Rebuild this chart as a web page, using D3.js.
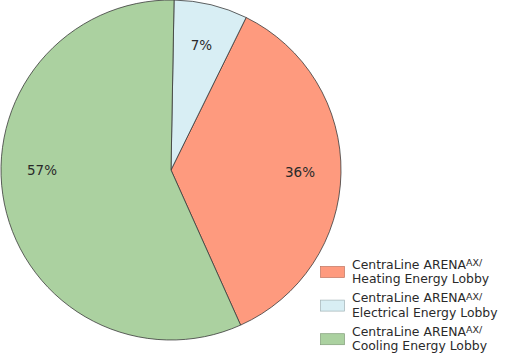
<!DOCTYPE html>
<html>
<head>
<meta charset="utf-8">
<script src="https://cdn.jsdelivr.net/npm/d3@7"></script>
<style>
  body { margin: 0; background: #fff; }
  svg text { font-family: "DejaVu Sans", sans-serif; fill: #2a2a2a; }
</style>
</head>
<body>
<div id="chart"></div>
<script>
const categories = ["Heating Energy Lobby", "Electrical Energy Lobby", "Cooling Energy Lobby"];
const values = [36, 7, 57];
const colors = ["#fe9a7e", "#d8eef4", "#abd1a0"];
// drawing order, clockwise from 12 o'clock
const sliceOrder = [1, 0, 2];

const width = 506, height = 355;
const cx = 171, cy = 170, radius = 170;
const labelRadius = 129;

const svg = d3.select("#chart").append("svg")
  .attr("width", width)
  .attr("height", height);

const start = 0.018;
const pie = d3.pie()
  .sort((a, b) => sliceOrder.indexOf(a.i) - sliceOrder.indexOf(b.i))
  .value(d => d.v)
  .startAngle(start)
  .endAngle(start + 2 * Math.PI);

const data = values.map((v, i) => ({ v, i }));
const arc = d3.arc().innerRadius(0).outerRadius(radius);

const g = svg.append("g").attr("transform", `translate(${cx},${cy})`);

const arcs = pie(data);

g.selectAll("path")
  .data(arcs)
  .enter()
  .append("path")
  .attr("d", arc)
  .attr("fill", d => colors[d.data.i])
  .attr("stroke", "#3a3a3a")
  .attr("stroke-width", 0.8);

// label angle: slice middle, but a slice spanning 9 o'clock keeps its label there
function labelAngle(d) {
  const w = 1.5 * Math.PI;
  if (d.startAngle <= w && d.endAngle >= w) return w;
  return (d.startAngle + d.endAngle) / 2;
}

g.selectAll("text.pct")
  .data(arcs)
  .enter()
  .append("text")
  .attr("class", "pct")
  .attr("x", d => labelRadius * Math.sin(labelAngle(d)))
  .attr("y", d => -labelRadius * Math.cos(labelAngle(d)))
  .attr("text-anchor", "middle")
  .attr("dy", "0.36em")
  .style("font-size", "13.5px")
  .text(d => d.data.v + "%");

// legend
const legend = svg.append("g").attr("transform", "translate(320.5,266.5)");
const item = legend.selectAll("g")
  .data(categories)
  .enter()
  .append("g")
  .attr("transform", (d, i) => `translate(0,${i * 33.6})`);

item.append("rect")
  .attr("width", 24)
  .attr("height", 11)
  .attr("fill", (d, i) => colors[i])
  .attr("stroke", (d, i) => d3.color(colors[i]).darker(0.8))
  .attr("stroke-width", 0.7);

const t = item.append("text")
  .attr("x", 31.5)
  .attr("y", 2)
  .style("font-size", "12.4px");

t.append("tspan").text("CentraLine ARENA");
t.append("tspan").text("AX/").style("font-size", "9.5px").attr("dy", -2.5);
t.append("tspan").attr("x", 31.5).attr("dy", 17.3).text(d => d);
</script>
</body>
</html>
